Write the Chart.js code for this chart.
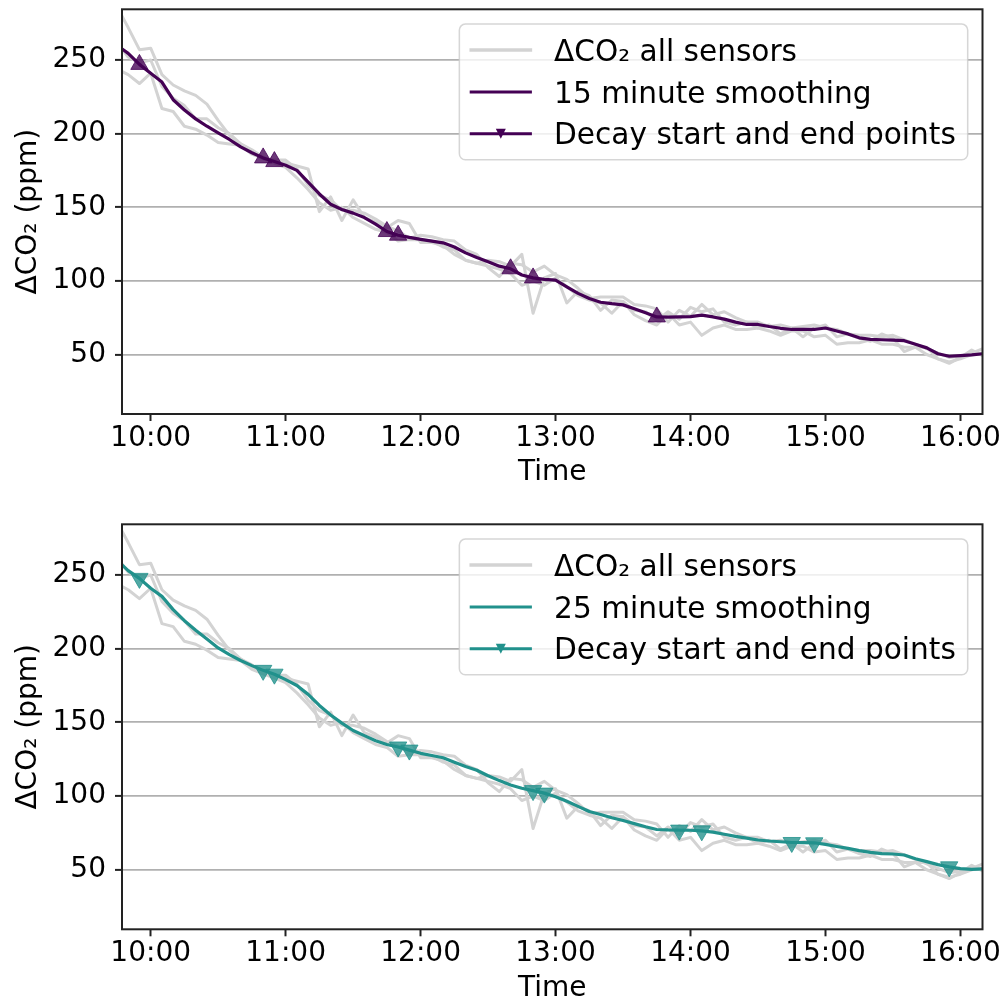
<!DOCTYPE html>
<html><head><meta charset="utf-8">
<script src="https://cdn.jsdelivr.net/npm/chart.js@4.4.1/dist/chart.umd.min.js"></script>
<style>
html,body{margin:0;padding:0;background:#fff;overflow:hidden;width:1005px;height:998px;position:relative;}
canvas{position:absolute;left:0;}
#c1{top:-31px;} #c2{top:484px;}
</style></head><body>
<canvas id="c1" width="1005" height="531"></canvas>
<canvas id="c2" width="1005" height="532"></canvas>
<script>
// time in minutes since midnight (5-minute samples)
const times = [585,590,595,600,605,610,615,620,625,630,
  635,640,645,650,655,660,665,670,675,680,
  685,690,695,700,705,710,715,720,725,730,
  735,740,745,750,755,760,765,770,775,780,
  785,790,795,800,805,810,815,820,825,830,
  835,840,845,850,855,860,865,870,875,880,
  885,890,895,900,905,910,915,920,925,930,
  935,940,945,950,955,960,965,970];

const sensorA = [286,272,257,258,240,233,229,226,220,209,
  199,193,189,184,181,180,178,176,147,157,
  141,155,143,140,136,141,139,126,126,124,
  118,114,112,114,113,110,118,78,102,105,
  85,93,90,80,87,86,80,79,73,79,
  74,82,79,81,72,70,72,68,70,64,
  68,62,68,70,62,64,61,59,64,61,
  52,55,55,47,44,48,53,49];
const sensorB = [244,240,234,241,217,215,205,203,199,194,
  193,192,186,183,180,177,170,162,153,148,
  150,143,139,135,133,127,128,128,127,123,
  121,114,112,110,108,105,97,100,97,102,
  96,90,87,85,78,86,77,73,70,78,
  70,72,63,68,70,67,67,68,66,63,
  66,66,62,63,57,58,58,60,57,57,
  55,55,50,47,45,47,50,51];
const sensorC = [262,252,248,250,232,224,219,210,210,204,
  200,193,188,183,182,182,176,165,158,155,
  148,148,146,142,137,134,129,131,130,128,
  127,121,118,109,103,112,111,106,110,104,
  101,95,88,89,89,89,84,83,81,72,
  80,76,84,77,79,75,72,72,69,70,
  68,69,70,68,67,64,63,63,62,63,
  60,57,54,51,48,49,51,54];

const smooth15 = [260,254.5,247,241,235,223,216,210,205,200.5,
  196,191,187,183.5,181,178.5,175,167,159,152,
  148.5,146,143,138.5,133.5,131,129.5,128.2,127,125.8,
  123,119,115.8,113,110,108.2,104,102,101,100.5,
  96,91.5,88,85.5,84.5,83.7,81,78.3,75.5,75.4,
  75.5,75.7,76.7,75.5,74,72,70.4,70.4,69,67.8,
  67,67,67,68,66,64,61.3,60.3,60,59.7,
  59.4,57,54.5,50.5,48.8,49.3,49.8,50.5];
const smooth25 = [260,253,247.7,241,235.5,226.5,219,212.5,206.5,200.5,
  196,192,188.5,185.3,182.7,179,175,169,161.5,155,
  149.5,144.5,141,137.5,135,133.3,131.2,129,127.5,126,
  123,120,117.5,113.8,110.5,107.5,105.3,103.7,102,99.5,
  96.5,93,89.5,87.5,85.3,83.4,81.3,79.2,77.3,77,
  76.9,76.8,76.4,75.5,74.1,72.7,71.5,70.2,69.5,69,
  68.5,68.4,68.3,67.2,65.8,64.5,63,61.8,61,60.7,
  60,57.5,55.5,53.5,52,50.8,50.2,50.6];

const decayTimes15 = [595,650,655,705,710,760,770,825];
const decayVals15  = [247,183.5,181,133.5,131,108.2,102,75.5];
const decayTimes25 = [595,650,655,710,715,770,775,835,845,885,895,955];
const decayVals25  = [247.7,185.3,182.7,133.3,131.2,103.7,102,76.9,76.4,68.5,68.3,52];

const hourTicks = [600,660,720,780,840,900,960];
const yTicks = [50,100,150,200,250];
const xLimits = [587.25,969.8];
const yLimits = [9.6,284.4];

const xTitle = 'Time';
const yTitle = 'ΔCO₂ (ppm)';
const legendTop = ['ΔCO₂ all sensors','15 minute smoothing','Decay start and end points'];
const legendBottom = ['ΔCO₂ all sensors','25 minute smoothing','Decay start and end points'];

const PURPLE = '#440154', TEAL = '#21918c', GREY = '#d3d3d3';
const PLOT_LEFT = 122, PLOT_RIGHT = 982.5;

Chart.defaults.font.family = '"DejaVu Sans", sans-serif';
Chart.defaults.color = '#000';

function pts(xs, ys) { return xs.map((x, i) => ({x: x, y: ys[i]})); }
function fmtTime(v) {
  const h = Math.floor(v / 60), m = Math.round(v - h * 60);
  return h + ':' + (m < 10 ? '0' : '') + m;
}

function drawTri(ctx, x, y, s, down) {
  ctx.beginPath();
  if (down) { ctx.moveTo(x - s/2, y - s/2); ctx.lineTo(x + s/2, y - s/2); ctx.lineTo(x, y + s/2); }
  else { ctx.moveTo(x - s/2, y + s/2); ctx.lineTo(x + s/2, y + s/2); ctx.lineTo(x, y - s/2); }
  ctx.closePath();
}

function makeChart(id, plotTop, plotBottom, smooth, color, markerFill, mT, mV, down, labels) {
  const canvas = document.getElementById(id);
  const H = canvas.height;
  const sensorDs = [sensorA, sensorB, sensorC].map(s => ({
    data: pts(times, s), borderColor: GREY, borderWidth: 3, pointRadius: 0,
    tension: 0, clip: 0, borderJoinStyle: 'round', fill: false, order: 3
  }));
  const frameLegend = {
    id: 'frameLegend',
    afterDatasetsDraw(chart) {
      const ctx = chart.ctx, ca = chart.chartArea;
      ctx.save();
      ctx.strokeStyle = '#222'; ctx.lineWidth = 2;
      ctx.strokeRect(ca.left, ca.top, ca.right - ca.left, ca.bottom - ca.top);
      // legend
      const fs = 29.6;
      ctx.font = fs + 'px "DejaVu Sans"';
      const tw = Math.max(...labels.map(l => ctx.measureText(l).width));
      const pad = 0.4 * fs, hl = 2 * fs, htp = 0.8 * fs;
      const right = ca.right - 0.5 * fs, top = ca.top + 0.5 * fs;
      const w = pad + hl + htp + tw + pad;
      const left = right - w;
      const rowY = [top + 26, top + 26 + 41.8, top + 26 + 83.6];
      const bottom = rowY[2] + 26;
      ctx.beginPath();
      if (ctx.roundRect) ctx.roundRect(left, top, w, bottom - top, 6); else ctx.rect(left, top, w, bottom - top);
      ctx.fillStyle = 'rgba(255,255,255,0.8)'; ctx.fill();
      ctx.strokeStyle = 'rgba(204,204,204,0.8)'; ctx.lineWidth = 1.5; ctx.stroke();
      const hx0 = left + pad, hx1 = left + pad + hl;
      const cols = [GREY, color, color];
      const widths = [3.5, 3, 3];
      ctx.lineCap = 'square';
      for (let i = 0; i < 3; i++) {
        ctx.beginPath(); ctx.moveTo(hx0, rowY[i]); ctx.lineTo(hx1, rowY[i]);
        ctx.strokeStyle = cols[i]; ctx.lineWidth = widths[i]; ctx.stroke();
      }
      drawTri(ctx, (hx0 + hx1) / 2, rowY[2], 10, true);
      ctx.fillStyle = color; ctx.fill();
      ctx.fillStyle = '#000'; ctx.textAlign = 'left'; ctx.textBaseline = 'alphabetic';
      for (let i = 0; i < 3; i++) ctx.fillText(labels[i], hx1 + htp, rowY[i] + 10.7);
      ctx.restore();
    }
  };
  return new Chart(canvas, {
    type: 'line',
    data: { datasets: [
      ...sensorDs,
      { data: pts(times, smooth), borderColor: color, borderWidth: 3.2, pointRadius: 0, tension: 0, clip: 0, borderJoinStyle: 'round', fill: false, order: 2 },
      { data: pts(mT, mV), showLine: false, pointStyle: 'triangle', pointRotation: down ? 180 : 0,
        pointRadius: 10, pointBackgroundColor: markerFill, pointBorderColor: markerFill, pointBorderWidth: 1, clip: false, order: 1 }
    ]},
    options: {
      responsive: false, animation: false, events: [],
      layout: { padding: { left: 0, right: 1005 - PLOT_RIGHT, top: plotTop, bottom: 0 } },
      plugins: { legend: { display: false }, tooltip: { enabled: false } },
      scales: {
        x: {
          type: 'linear', min: xLimits[0], max: xLimits[1],
          afterBuildTicks: s => { s.ticks = hourTicks.map(v => ({ value: v })); },
          afterFit: s => { s.height = H - plotBottom; },
          ticks: { autoSkip: false, maxRotation: 0, padding: 1, font: { size: 28 }, color: '#000', callback: v => fmtTime(v) },
          grid: { drawOnChartArea: false, tickLength: 7, tickWidth: 2, tickColor: '#222', color: '#222' },
          border: { display: false },
          title: { display: true, text: xTitle, font: { size: 28 }, color: '#000', padding: { top: 0, bottom: 10 } }
        },
        y: {
          type: 'linear', min: yLimits[0], max: yLimits[1],
          afterBuildTicks: s => { s.ticks = yTicks.map(v => ({ value: v })); },
          afterFit: s => { s.width = PLOT_LEFT; },
          ticks: { autoSkip: false, padding: 9, font: { size: 28 }, color: '#000' },
          grid: { drawOnChartArea: true, tickLength: 7, lineWidth: 1.8, tickWidth: 2, color: '#b0b0b0', tickColor: '#222' },
          border: { display: false },
          title: { display: true, text: yTitle, font: { size: 28 }, color: '#000', padding: { top: 11.5, bottom: 0 } }
        }
      }
    },
    plugins: [frameLegend]
  });
}

// plot area: top 9.3..414 (page), bottom 524.3..929.3 (page)
makeChart('c1', 40.3, 445, smooth15, PURPLE, 'rgba(68,1,84,0.78)', decayTimes15, decayVals15, false, legendTop);
makeChart('c2', 40.3, 445.3, smooth25, TEAL, 'rgba(33,145,140,0.78)', decayTimes25, decayVals25, true, legendBottom);
</script>
</body></html>
